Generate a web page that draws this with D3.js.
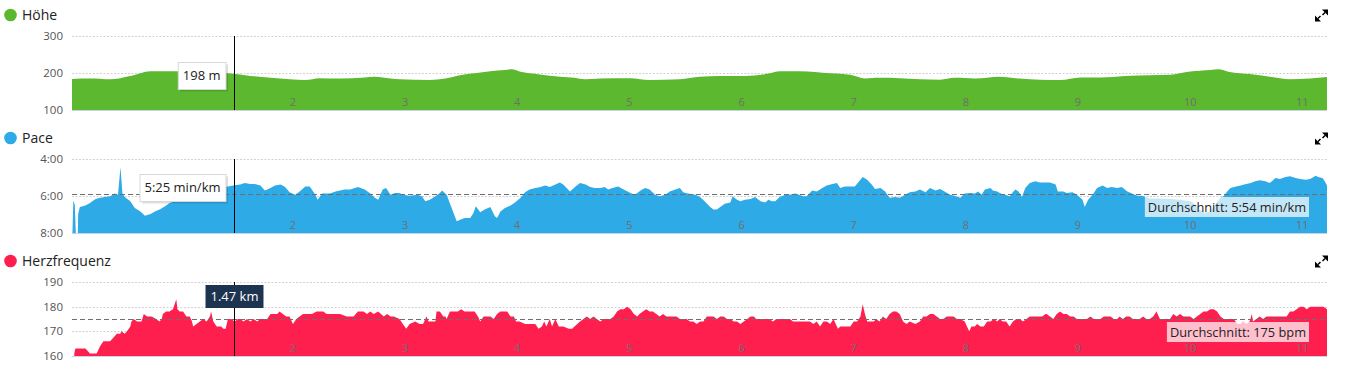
<!DOCTYPE html>
<html>
<head>
<meta charset="utf-8">
<script src="https://cdn.jsdelivr.net/npm/d3@7"></script>
<style>
  body { margin: 0; background: #fff; overflow: hidden; }
  text { font-family: "Open Sans", sans-serif; }
</style>
</head>
<body>
<div id="chart"></div>
<script>
// distance axis (km) and the three series
const kmDomain = [0.03, 11.22];
const kmTicks = [2, 3, 4, 5, 6, 7, 8, 9, 10, 11];
const cursorKm = 1.47;

const hoeheTicks = [100, 200, 300];
const hoeheKm = [0.03,0.19,0.37,0.55,0.73,0.95,1.17,1.47,1.62,1.80,
  1.97,2.11,2.24,2.42,2.64,2.73,2.87,2.95,3.22,3.36,
  3.49,3.62,3.76,3.89,3.95,4.02,4.20,4.38,4.51,4.60,
  4.74,5.01,5.18,5.45,5.63,5.81,6.03,6.25,6.34,6.52,
  6.79,6.97,7.10,7.23,7.41,7.59,7.77,7.90,8.08,8.30,
  8.48,8.66,8.84,9.02,9.20,9.42,9.64,9.82,10.00,10.18,
  10.25,10.35,10.53,10.71,10.89,11.07,11.22];
const hoeheM = [184,185,183,192,205,205,205,198,192,187,
  183,181,186,185,188,190,185,183,181,185,
  194,199,205,208,210,204,196,190,187,183,
  185,186,181,183,190,192,192,199,205,205,
  199,195,185,187,186,183,182,187,185,190,
  185,182,181,188,188,192,194,195,204,208,
  210,203,197,190,183,185,189];
const hoeheCursor = 198;

// pace in seconds per km
const paceTicks = [240, 360, 480];
const paceKm = [0.034,0.042,0.055,0.064,0.082,0.085,0.10,0.15,0.19,0.24,
  0.28,0.32,0.37,0.41,0.44,0.462,0.48,0.50,0.55,0.59,
  0.64,0.68,0.73,0.77,0.82,0.86,0.90,0.95,0.99,1.08,
  1.17,1.26,1.35,1.42,1.48,1.53,1.57,1.62,1.66,1.71,
  1.75,1.80,1.84,1.89,1.93,1.97,2.02,2.06,2.11,2.15,
  2.20,2.22,2.26,2.33,2.38,2.42,2.46,2.51,2.58,2.64,
  2.69,2.73,2.76,2.80,2.83,2.87,2.91,2.95,2.98,3.04,
  3.11,3.15,3.18,3.22,3.27,3.31,3.33,3.37,3.42,3.46,
  3.49,3.53,3.58,3.61,3.63,3.67,3.71,3.76,3.80,3.82,
  3.85,3.89,3.94,3.98,4.03,4.07,4.11,4.16,4.20,4.25,
  4.29,4.34,4.38,4.41,4.44,4.47,4.52,4.56,4.61,4.65,
  4.69,4.74,4.78,4.81,4.85,4.90,4.94,5.01,5.05,5.10,
  5.14,5.18,5.23,5.27,5.32,5.36,5.41,5.45,5.48,5.52,
  5.59,5.63,5.67,5.72,5.75,5.78,5.81,5.85,5.90,5.92,
  5.96,5.99,6.03,6.08,6.12,6.17,6.21,6.24,6.27,6.30,
  6.34,6.39,6.43,6.48,6.52,6.55,6.58,6.63,6.67,6.72,
  6.76,6.81,6.85,6.88,6.92,6.97,7.01,7.04,7.08,7.12,
  7.16,7.19,7.24,7.28,7.32,7.37,7.41,7.46,7.50,7.55,
  7.59,7.64,7.68,7.73,7.77,7.81,7.86,7.90,7.95,7.99,
  8.04,8.08,8.11,8.14,8.17,8.22,8.24,8.28,8.31,8.35,
  8.39,8.44,8.47,8.50,8.53,8.57,8.62,8.66,8.71,8.75,
  8.80,8.82,8.87,8.90,8.95,8.99,9.04,9.06,9.09,9.13,
  9.17,9.22,9.26,9.30,9.35,9.39,9.44,9.48,9.53,9.57,
  9.62,9.64,9.73,9.82,9.91,10.00,10.04,10.09,10.13,10.18,
  10.22,10.27,10.30,10.33,10.36,10.40,10.45,10.49,10.54,10.58,
  10.62,10.67,10.71,10.76,10.80,10.85,10.89,10.94,10.98,11.03,
  11.07,11.12,11.14,11.18,11.20,11.22];
const paceSec = [480,375,388,480,480,418,396,391,383,370,
  366,363,361,352,356,267,352,363,377,399,
  410,424,418,410,402,393,383,377,372,363,
  356,345,334,329,325,323,318,321,321,326,
  342,334,326,323,331,348,356,345,329,329,
  356,372,352,352,345,342,339,339,331,339,
  352,366,372,339,334,356,350,350,356,359,
  356,361,377,372,361,350,342,356,404,442,
  437,431,431,415,393,413,404,396,426,431,
  410,399,391,381,366,348,339,334,332,326,
  331,323,316,323,334,345,329,318,323,331,
  334,334,331,339,334,329,337,350,356,342,
  334,339,356,361,356,345,339,334,348,352,
  356,363,377,396,404,404,396,385,381,361,
  372,377,372,370,363,377,381,372,377,377,
  363,356,356,352,357,361,361,342,345,334,
  326,321,318,334,329,329,329,316,298,307,
  323,337,334,345,366,363,366,356,348,345,
  339,348,334,342,337,345,356,359,366,352,
  350,352,345,356,339,334,342,345,352,356,
  361,339,345,363,334,318,312,316,316,316,
  323,345,345,350,348,356,372,396,372,356,
  334,326,334,331,334,331,345,352,359,359,
  366,368,368,370,372,377,385,405,414,410,
  390,366,360,345,334,330,326,322,318,312,
  309,312,318,302,305,298,296,302,305,307,
  305,294,298,302,312,326];
const paceCursor = 325;
const paceAvg = 354;

// heart rate in bpm
const hrTicks = [160, 170, 180, 190];
const hrKm = [0.05,0.06,0.07,0.13,0.15,0.17,0.19,0.22,0.25,0.28,
  0.31,0.34,0.37,0.41,0.43,0.46,0.47,0.50,0.52,0.55,
  0.56,0.58,0.61,0.64,0.65,0.67,0.70,0.74,0.78,0.81,
  0.83,0.84,0.87,0.90,0.93,0.96,0.97,0.99,1.02,1.05,
  1.07,1.08,1.10,1.11,1.14,1.17,1.20,1.23,1.26,1.27,
  1.29,1.32,1.36,1.38,1.40,1.42,1.45,1.48,1.51,1.53,
  1.56,1.59,1.62,1.65,1.68,1.71,1.74,1.77,1.80,1.83,
  1.86,1.88,1.91,1.94,1.97,2.00,2.03,2.06,2.09,2.12,
  2.17,2.21,2.24,2.27,2.30,2.36,2.42,2.48,2.54,2.58,
  2.63,2.66,2.69,2.72,2.76,2.81,2.84,2.87,2.90,2.95,
  2.98,3.01,3.04,3.09,3.13,3.16,3.19,3.21,3.24,3.27,
  3.28,3.31,3.34,3.36,3.37,3.40,3.43,3.47,3.50,3.53,
  3.56,3.59,3.62,3.65,3.67,3.70,3.73,3.76,3.79,3.82,
  3.85,3.88,3.91,3.94,3.97,3.99,4.02,4.07,4.11,4.16,
  4.19,4.22,4.24,4.26,4.29,4.31,4.34,4.37,4.41,4.46,
  4.49,4.51,4.56,4.59,4.62,4.65,4.68,4.71,4.74,4.77,
  4.80,4.83,4.86,4.89,4.92,4.95,4.98,5.01,5.04,5.07,
  5.09,5.12,5.15,5.18,5.21,5.24,5.27,5.30,5.33,5.36,
  5.39,5.42,5.45,5.48,5.51,5.54,5.57,5.60,5.63,5.66,
  5.69,5.72,5.75,5.78,5.81,5.84,5.87,5.90,5.93,5.96,
  5.99,6.02,6.05,6.08,6.11,6.13,6.16,6.19,6.22,6.25,
  6.28,6.31,6.34,6.37,6.40,6.43,6.46,6.49,6.52,6.55,
  6.58,6.61,6.64,6.67,6.70,6.73,6.76,6.79,6.82,6.85,
  6.86,6.88,6.91,6.94,6.97,7.00,7.03,7.06,7.08,7.10,
  7.12,7.15,7.18,7.20,7.23,7.26,7.29,7.32,7.35,7.38,
  7.41,7.44,7.47,7.50,7.55,7.59,7.62,7.65,7.68,7.71,
  7.74,7.77,7.80,7.83,7.86,7.89,7.92,7.95,7.99,8.01,
  8.03,8.05,8.08,8.10,8.13,8.16,8.19,8.22,8.25,8.28,
  8.30,8.33,8.36,8.39,8.42,8.45,8.48,8.51,8.54,8.57,
  8.60,8.63,8.68,8.71,8.72,8.75,8.78,8.81,8.84,8.87,
  8.90,8.93,8.96,8.99,9.02,9.05,9.08,9.11,9.14,9.17,
  9.20,9.23,9.26,9.29,9.32,9.35,9.37,9.40,9.43,9.46,
  9.49,9.52,9.55,9.58,9.61,9.64,9.67,9.70,9.72,9.73,
  9.76,9.79,9.82,9.85,9.88,9.91,9.94,9.97,10.00,10.03,
  10.06,10.09,10.12,10.15,10.18,10.21,10.24,10.27,10.30,10.33,
  10.36,10.39,10.42,10.45,10.47,10.50,10.53,10.55,10.56,10.59,
  10.62,10.65,10.68,10.71,10.74,10.77,10.80,10.83,10.86,10.89,
  10.92,10.95,10.98,11.01,11.04,11.07,11.10,11.13,11.16,11.19,
  11.22];
const hrBpm = [161,163,163,163,163,162,161,161,161,164,
  166,166,166,168,169,169,170,169,170,172,
  174,175,174,174,174,177,176,176,175,174,
  175,177,178,178,179,183,179,178,178,176,
  176,176,174,172,173,174,175,174,176,178,
  174,172,172,171,171,175,175,174,175,175,
  174,175,174,175,174,175,175,175,177,177,
  177,178,177,176,176,173,175,176,177,177,
  177,178,178,178,177,177,177,176,176,178,
  178,177,178,177,178,176,177,176,176,175,
  173,171,173,174,173,173,176,174,174,174,
  178,178,176,176,175,178,178,178,179,178,
  178,178,178,176,174,176,176,176,175,177,
  178,178,178,176,176,174,174,173,173,173,
  171,172,174,172,175,172,175,172,172,171,
  171,172,174,175,176,175,176,175,174,175,
  175,175,176,178,179,179,180,179,177,176,
  177,178,179,178,178,177,176,177,176,176,
  176,176,175,175,175,174,174,173,174,174,
  176,176,176,175,176,176,175,175,174,174,
  173,174,175,176,176,175,175,175,175,175,
  174,175,175,175,175,175,174,174,174,174,
  174,174,173,174,172,174,174,173,175,172,
  171,172,172,172,172,174,174,176,181,177,
  174,174,174,175,174,176,175,177,178,178,
  177,174,173,174,173,174,176,176,177,177,
  176,175,175,176,176,176,175,175,174,172,
  170,172,172,173,172,172,174,174,175,174,
  175,174,174,172,174,175,175,174,175,176,
  176,176,176,177,177,176,175,177,178,177,
  177,176,176,175,175,175,175,176,175,175,
  175,176,176,176,175,175,176,175,176,176,
  175,175,175,176,175,175,176,178,176,175,
  175,175,175,177,176,177,176,176,176,175,
  176,177,178,178,179,179,178,176,175,175,
  175,175,173,173,174,173,174,177,174,175,
  176,175,176,176,176,176,176,176,176,178,
  178,179,180,180,179,180,180,180,180,180,
  179];
const hrAvg = 175;

const width = 1366, height = 378;
const panelStep = 123;
const plotTop = 36, plotBottom = 110;

const fmtPace = s => Math.floor(s / 60) + ":" + String(Math.round(s % 60)).padStart(2, "0");

const panels = [
  {title: "Höhe", color: "#5cb82e", km: hoeheKm, values: hoeheM, domain: [100, 300],
   ticks: hoeheTicks, fmt: d => d, curve: d3.curveMonotoneX,
   tip: {value: hoeheCursor, label: hoeheCursor + " m"}},
  {title: "Pace", color: "#2eaae6", km: paceKm, values: paceSec, domain: [480, 240],
   ticks: paceTicks, fmt: fmtPace, curve: d3.curveLinear,
   tip: {value: paceCursor, label: fmtPace(paceCursor) + " min/km"},
   avg: {value: paceAvg, label: "Durchschnitt: " + fmtPace(paceAvg) + " min/km"}},
  {title: "Herzfrequenz", color: "#ff1f4f", km: hrKm, values: hrBpm, domain: [160, 190],
   ticks: hrTicks, fmt: d => d, curve: d3.curveLinear, kmTip: true,
   avg: {value: hrAvg, label: "Durchschnitt: " + hrAvg + " bpm"}}
];

const svg = d3.select("#chart").append("svg")
  .attr("width", width)
  .attr("height", height);

const x = d3.scaleLinear().domain(kmDomain).range([72, 1327]);
const cx = Math.round(x(cursorKm)) + 0.5;

panels.forEach((p, pi) => {
  const g = svg.append("g").attr("transform", `translate(0,${pi * panelStep})`);
  const y = d3.scaleLinear().domain(p.domain).range([plotBottom, plotTop]);

  // legend
  g.append("circle").attr("cx", 10.5).attr("cy", 15).attr("r", 6.3).attr("fill", p.color);
  g.append("text").attr("x", 22).attr("y", 20)
    .style("font-size", "14px").attr("fill", "#222").text(p.title);

  // expand icon
  g.append("path")
    .attr("d", "M1322,9.5H1328V15.5Z M1315,15.5V21.5H1321Z")
    .attr("fill", "#000");
  g.append("path")
    .attr("d", "M1325,12.5L1322.5,15 M1318,18.5L1320.5,16")
    .attr("stroke", "#000").attr("stroke-width", 1.5);

  // grid
  p.ticks.filter(t => t !== p.domain[0]).forEach(t => {
    g.append("line")
      .attr("x1", 72).attr("x2", 1327)
      .attr("y1", Math.round(y(t)) + 0.5).attr("y2", Math.round(y(t)) + 0.5)
      .attr("stroke", "#d2d2d2").attr("stroke-dasharray", "2,1.5");
  });

  g.selectAll(".ytick").data(p.ticks).join("text")
    .attr("x", 63).attr("y", d => y(d)).attr("dy", "0.35em")
    .attr("text-anchor", "end")
    .style("font-size", "11.5px").attr("fill", "#555")
    .text(p.fmt);

  // area
  const area = d3.area()
    .x(i => x(p.km[i]))
    .y0(y(p.domain[0]))
    .y1(i => y(p.values[i]))
    .curve(p.curve);
  g.append("path")
    .datum(d3.range(p.km.length))
    .attr("d", area)
    .attr("fill", p.color);

  // bottom line
  g.append("line")
    .attr("x1", 72).attr("x2", 1327)
    .attr("y1", plotBottom + 0.5).attr("y2", plotBottom + 0.5)
    .attr("stroke", "#c6d3e2");

  // km labels inside the plot
  g.selectAll(".xtick").data(kmTicks).join("text")
    .attr("x", d => x(d)).attr("y", plotBottom - 4)
    .attr("text-anchor", "middle")
    .style("font-size", "11px").attr("fill", "#6f6f6f")
    .text(d => d);

  // average
  if (p.avg) {
    const ay = Math.round(y(p.avg.value)) + 0.5;
    g.append("line")
      .attr("x1", 72).attr("x2", 1327)
      .attr("y1", ay).attr("y2", ay)
      .attr("stroke", "#6e6e6e").attr("stroke-dasharray", "5,3");
    const lab = g.append("g");
    const rect = lab.append("rect").attr("fill", "rgba(255,255,255,0.72)");
    const txt = lab.append("text")
      .attr("x", 1306).attr("y", ay + 17)
      .attr("text-anchor", "end")
      .style("font-size", "12.8px").attr("fill", "#222")
      .text(p.avg.label);
    const bb = txt.node().getBBox();
    rect.attr("x", bb.x - 3).attr("y", ay + 2.5)
      .attr("width", 1309 - bb.x + 3).attr("height", 20);
  }

  // cursor
  g.append("line")
    .attr("x1", cx).attr("x2", cx)
    .attr("y1", plotTop).attr("y2", plotBottom)
    .attr("stroke", "#000");

  if (p.tip) {
    const ty = y(p.tip.value) + 2;
    const tg = g.append("g");
    const shadow = tg.append("rect").attr("fill", "rgba(0,0,0,0.13)");
    const box = tg.append("rect").attr("fill", "#fff").attr("stroke", "#d8d8d8");
    const txt = tg.append("text")
      .attr("y", ty + 4.5)
      .attr("text-anchor", "middle")
      .style("font-size", "13px").attr("fill", "#222")
      .text(p.tip.label);
    const w = txt.node().getBBox().width + 10;
    const right = cx - 9;
    txt.attr("x", right - w / 2);
    box.attr("x", right - w + 0.5).attr("y", Math.round(ty - 13.5) + 0.5)
      .attr("width", w).attr("height", 27);
    shadow.attr("x", right - w + 2.5).attr("y", Math.round(ty - 13.5) + 2.5)
      .attr("width", w).attr("height", 27);
  }

  if (p.kmTip) {
    const tg = g.append("g");
    const box = tg.append("rect").attr("fill", "#1c3450");
    const txt = tg.append("text")
      .attr("x", cx).attr("y", plotTop + 19)
      .attr("text-anchor", "middle")
      .style("font-size", "13px").attr("fill", "#fff")
      .text(cursorKm.toFixed(2) + " km");
    const w = txt.node().getBBox().width + 10;
    box.attr("x", cx - w / 2).attr("y", plotTop + 3)
      .attr("width", w).attr("height", 23);
  }
});
</script>
</body>
</html>
